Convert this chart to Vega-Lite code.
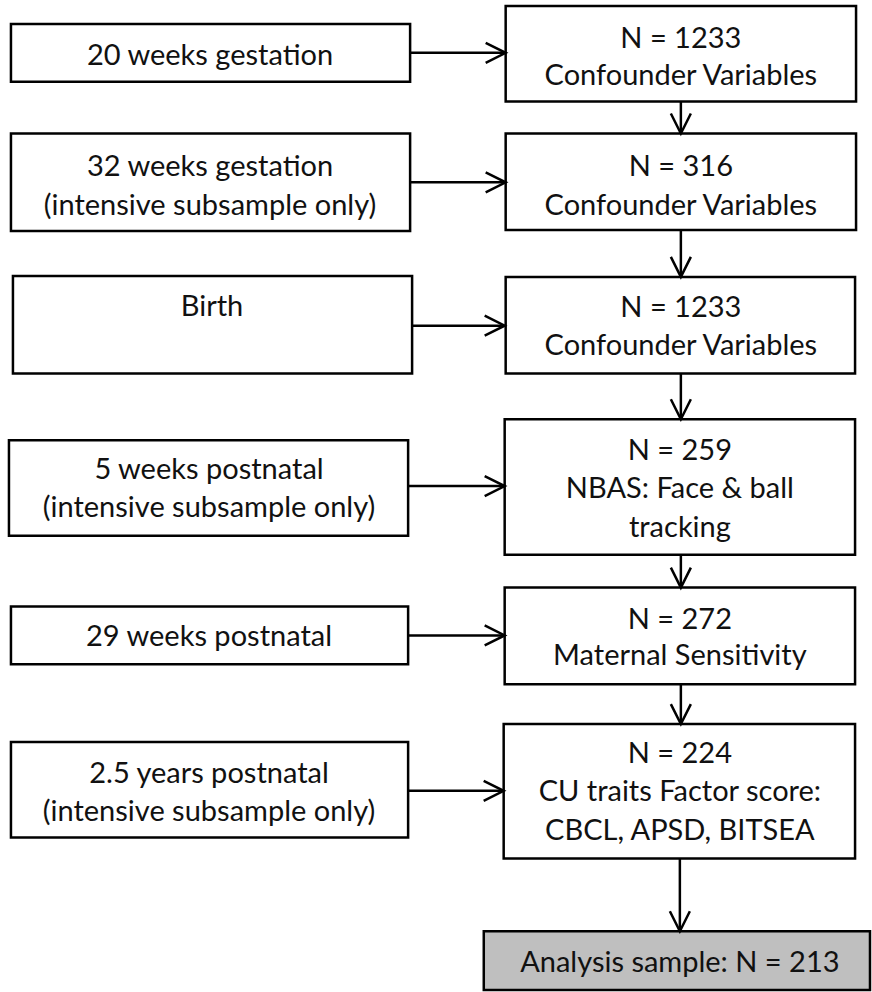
{
  "$schema": "https://vega.github.io/schema/vega-lite/v6.json",
  "width": 872,
  "height": 992,
  "padding": 0,
  "autosize": {"type": "fit", "contains": "padding"},
  "background": "white",
  "config": {"view": {"stroke": null}},
  "datasets": {
    "boxes": [
      {"x1": 11, "x2": 412, "y1": 24, "y2": 82, "kind": "stage"},
      {"x1": 508, "x2": 860, "y1": 6, "y2": 102, "kind": "measure"},
      {"x1": 11, "x2": 412, "y1": 134, "y2": 232, "kind": "stage"},
      {"x1": 508, "x2": 860, "y1": 134, "y2": 231, "kind": "measure"},
      {"x1": 13, "x2": 414, "y1": 277, "y2": 375, "kind": "stage"},
      {"x1": 508, "x2": 859, "y1": 278, "y2": 375, "kind": "measure"},
      {"x1": 9, "x2": 410, "y1": 442, "y2": 538, "kind": "stage"},
      {"x1": 507, "x2": 859, "y1": 421, "y2": 557, "kind": "measure"},
      {"x1": 11, "x2": 410, "y1": 609, "y2": 667, "kind": "stage"},
      {"x1": 507, "x2": 859, "y1": 590, "y2": 687, "kind": "measure"},
      {"x1": 11, "x2": 410, "y1": 745, "y2": 841, "kind": "stage"},
      {"x1": 506, "x2": 859, "y1": 727, "y2": 862, "kind": "measure"},
      {"x1": 486, "x2": 874, "y1": 935, "y2": 994, "kind": "result"}
    ],
    "labels": [
      {"x": 211, "y": 54, "text": "20 weeks gestation"},
      {"x": 684, "y": 37, "text": "N = 1233"},
      {"x": 684, "y": 74, "text": "Confounder Variables"},
      {"x": 211, "y": 166, "text": "32 weeks gestation"},
      {"x": 211, "y": 205, "text": "(intensive subsample only)"},
      {"x": 684, "y": 166, "text": "N = 316"},
      {"x": 684, "y": 205, "text": "Confounder Variables"},
      {"x": 213, "y": 306, "text": "Birth"},
      {"x": 684, "y": 307, "text": "N = 1233"},
      {"x": 684, "y": 345, "text": "Confounder Variables"},
      {"x": 210, "y": 470, "text": "5 weeks postnatal"},
      {"x": 210, "y": 508, "text": "(intensive subsample only)"},
      {"x": 683, "y": 451, "text": "N = 259"},
      {"x": 683, "y": 489, "text": "NBAS: Face & ball"},
      {"x": 683, "y": 528, "text": "tracking"},
      {"x": 210, "y": 638, "text": "29 weeks postnatal"},
      {"x": 683, "y": 620, "text": "N = 272"},
      {"x": 683, "y": 657, "text": "Maternal Sensitivity"},
      {"x": 210, "y": 775, "text": "2.5 years postnatal"},
      {"x": 210, "y": 813, "text": "(intensive subsample only)"},
      {"x": 683, "y": 755, "text": "N = 224"},
      {"x": 683, "y": 793, "text": "CU traits Factor score:"},
      {"x": 683, "y": 832, "text": "CBCL, APSD, BITSEA"},
      {"x": 683, "y": 965, "text": "Analysis sample: N = 213"}
    ],
    "harrows": [
      {"x1": 412, "x2": 508, "y": 53},
      {"x1": 412, "x2": 508, "y": 183},
      {"x1": 414, "x2": 507, "y": 327},
      {"x1": 410, "x2": 507, "y": 488},
      {"x1": 410, "x2": 507, "y": 638},
      {"x1": 410, "x2": 506, "y": 794}
    ],
    "varrows": [
      {"x": 684, "y1": 102, "y2": 134},
      {"x": 684, "y1": 231, "y2": 278},
      {"x": 684, "y1": 375, "y2": 421},
      {"x": 684, "y1": 557, "y2": 590},
      {"x": 684, "y1": 687, "y2": 727},
      {"x": 683, "y1": 862, "y2": 935}
    ]
  },
  "layer": [
    {
      "data": {"name": "boxes"},
      "mark": {"type": "rect", "stroke": "black", "strokeWidth": 2.5},
      "encoding": {
        "x": {"field": "x1", "type": "quantitative", "scale": {"domain": [0, 872], "nice": false, "zero": false}, "axis": null},
        "x2": {"field": "x2"},
        "y": {"field": "y1", "type": "quantitative", "scale": {"domain": [0, 992], "nice": false, "zero": false, "reverse": true}, "axis": null},
        "y2": {"field": "y2"},
        "fill": {"field": "kind", "type": "nominal", "scale": {"domain": ["stage", "measure", "result"], "range": ["#ffffff", "#ffffff", "#bfbfbf"]}, "legend": null}
      }
    },
    {
      "data": {"name": "harrows"},
      "mark": {"type": "rule", "stroke": "black", "strokeWidth": 2.5},
      "encoding": {
        "x": {"field": "x1", "type": "quantitative"},
        "x2": {"field": "x2"},
        "y": {"field": "y", "type": "quantitative"}
      }
    },
    {
      "data": {"name": "harrows"},
      "mark": {"type": "point", "shape": "M-1,-0.5L0,0L-1,0.5", "filled": false, "stroke": "black", "strokeWidth": 2.5, "size": 1600, "opacity": 1},
      "encoding": {
        "x": {"field": "x2", "type": "quantitative"},
        "y": {"field": "y", "type": "quantitative"}
      }
    },
    {
      "data": {"name": "varrows"},
      "mark": {"type": "rule", "stroke": "black", "strokeWidth": 2.5},
      "encoding": {
        "x": {"field": "x", "type": "quantitative"},
        "y": {"field": "y1", "type": "quantitative"},
        "y2": {"field": "y2"}
      }
    },
    {
      "data": {"name": "varrows"},
      "mark": {"type": "point", "shape": "M-1,-0.5L0,0L-1,0.5", "angle": 90, "filled": false, "stroke": "black", "strokeWidth": 2.5, "size": 1600, "opacity": 1},
      "encoding": {
        "x": {"field": "x", "type": "quantitative"},
        "y": {"field": "y2", "type": "quantitative"}
      }
    },
    {
      "data": {"name": "labels"},
      "mark": {"type": "text", "font": "Lato", "fontSize": 29, "color": "#111111", "align": "center", "baseline": "middle", "dy": 2},
      "encoding": {
        "x": {"field": "x", "type": "quantitative"},
        "y": {"field": "y", "type": "quantitative"},
        "text": {"field": "text"}
      }
    }
  ]
}
